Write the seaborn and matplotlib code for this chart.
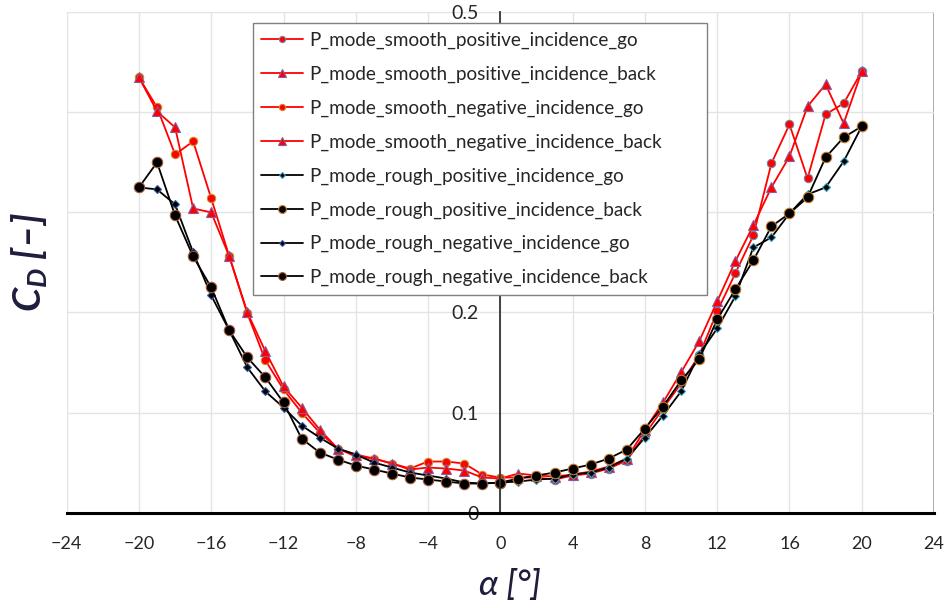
import numpy as np
import pandas as pd
import matplotlib
matplotlib.use("Agg")
import matplotlib.pyplot as plt
from matplotlib.patches import Rectangle
from matplotlib.ticker import MultipleLocator, FuncFormatter
import seaborn as sns

#%% data (C_D vs angle of attack)

alpha_neg = list(range(-20, 1))
alpha_pos = list(range(0, 21))

# smooth surface
cd_smooth_pos_go = [0.035, 0.035, 0.035, 0.033, 0.037, 0.039, 0.044, 0.052, 0.078, 0.104, 0.129,
                    0.157, 0.201, 0.239, 0.277, 0.349, 0.388, 0.334, 0.398, 0.409, 0.441]
cd_smooth_pos_back = [0.034, 0.039, 0.037, 0.036, 0.038, 0.041, 0.046, 0.054, 0.083, 0.110, 0.140,
                      0.171, 0.211, 0.251, 0.287, 0.325, 0.356, 0.406, 0.428, 0.389, 0.441]
cd_smooth_neg_go = [0.435, 0.405, 0.358, 0.371, 0.314, 0.256, 0.199, 0.152, 0.123, 0.100, 0.080,
                    0.064, 0.056, 0.054, 0.049, 0.044, 0.051, 0.051, 0.049, 0.038, 0.035]
cd_smooth_neg_back = [0.435, 0.401, 0.385, 0.304, 0.300, 0.256, 0.200, 0.161, 0.126, 0.105, 0.083,
                      0.064, 0.058, 0.054, 0.049, 0.043, 0.045, 0.044, 0.042, 0.035, 0.034]

# rough surface
cd_rough_pos_go = [0.030, 0.031, 0.033, 0.034, 0.038, 0.040, 0.045, 0.054, 0.075, 0.097, 0.121,
                   0.158, 0.184, 0.216, 0.265, 0.275, 0.299, 0.318, 0.325, 0.351, 0.386]
cd_rough_pos_back = [0.030, 0.034, 0.037, 0.040, 0.044, 0.048, 0.054, 0.063, 0.084, 0.106, 0.132,
                     0.153, 0.193, 0.223, 0.252, 0.286, 0.299, 0.315, 0.355, 0.375, 0.386]
cd_rough_neg_go = [0.325, 0.323, 0.308, 0.260, 0.217, 0.182, 0.145, 0.121, 0.105, 0.087, 0.075,
                   0.064, 0.058, 0.050, 0.045, 0.040, 0.037, 0.034, 0.030, 0.029, 0.030]
cd_rough_neg_back = [0.325, 0.350, 0.297, 0.256, 0.225, 0.182, 0.155, 0.135, 0.110, 0.074, 0.060,
                     0.053, 0.047, 0.043, 0.039, 0.035, 0.033, 0.031, 0.029, 0.029, 0.030]

labels = ['P_mode_smooth_positive_incidence_go',
          'P_mode_smooth_positive_incidence_back',
          'P_mode_smooth_negative_incidence_go',
          'P_mode_smooth_negative_incidence_back',
          'P_mode_rough_positive_incidence_go',
          'P_mode_rough_positive_incidence_back',
          'P_mode_rough_negative_incidence_go',
          'P_mode_rough_negative_incidence_back']

#%% styling

sns.set_style("white")
plt.rcParams['font.family'] = ['Lato', 'DejaVu Sans']
plt.rcParams['mathtext.fontset'] = 'custom'
plt.rcParams['mathtext.it'] = 'Lato:italic:bold'
plt.rcParams['mathtext.rm'] = 'Lato:bold'

# (x, y, colour, marker, size, edge colour)
series = [
    (alpha_pos, cd_smooth_pos_go, 'red', 'o', 6, '#7585a8'),
    (alpha_pos, cd_smooth_pos_back, 'red', '^', 7, '#8a5aa0'),
    (alpha_neg, cd_smooth_neg_go, 'red', 'o', 6, '#c8902a'),
    (alpha_neg, cd_smooth_neg_back, 'red', '^', 7, '#8a5aa0'),
    (alpha_pos, cd_rough_pos_go, 'black', 'D', 4, '#3aa0c0'),
    (alpha_pos, cd_rough_pos_back, 'black', 'o', 7.5, '#c07a2a'),
    (alpha_neg, cd_rough_neg_go, 'black', 'D', 4, '#3a5aa0'),
    (alpha_neg, cd_rough_neg_back, 'black', 'o', 7.5, '#a05a3a'),
]

fig = plt.figure(figsize=(9.47, 6.08), dpi=100)
ax = fig.add_axes([0.0704, 0.157, 0.9159, 0.8227])

for (x, y, col, mk, ms, mec), lab in zip(series, labels):
    df = pd.DataFrame({'alpha': x, 'cd': y})
    sns.lineplot(data=df, x='alpha', y='cd', ax=ax, color=col, marker=mk, markersize=ms,
                 markeredgecolor=mec, markeredgewidth=0.8, linewidth=1.3, label=lab,
                 sort=False, estimator=None)

ax.set_xlim(-24, 24)
ax.set_ylim(0, 0.5)
ax.xaxis.set_major_locator(MultipleLocator(4))
ax.yaxis.set_major_locator(MultipleLocator(0.1))
ax.yaxis.set_major_formatter(FuncFormatter(lambda v, _: f'{v:g}'))
ax.grid(True, color='#e4e4e4', linewidth=1)
ax.set_axisbelow(True)

# axes through zero, grey box round the plot area
for s in ['top', 'right']:
    ax.spines[s].set_visible(False)
ax.spines['left'].set_position(('data', 0))
ax.spines['left'].set_color('#333333')
ax.spines['left'].set_linewidth(1.3)
ax.spines['bottom'].set_color('black')
ax.spines['bottom'].set_linewidth(2.2)
ax.add_patch(Rectangle((0, 0), 1, 1, transform=ax.transAxes, fill=False,
                       edgecolor='#8c8c8c', linewidth=1.2, zorder=0.5))

ax.tick_params(axis='x', direction='out', length=5, width=1.5, colors='black',
               labelsize=13, pad=12, labelcolor='#262626')
ax.tick_params(axis='y', direction='out', length=4.5, width=1.2, colors='#333333',
               labelsize=14, pad=11, labelcolor='#262626')

ax.set_ylabel(r'$C_D$ [–]', fontsize=28, fontweight='bold', fontstyle='italic', color='#1e1e3c')
ax.yaxis.set_label_coords(-0.02, 0.5)
ax.set_xlabel('α [°]', fontsize=25, fontstyle='italic', fontweight='medium', color='#1e1e3c')
ax.xaxis.set_label_coords(0.511, -0.113)

leg = ax.legend(loc='upper left', bbox_to_anchor=(0.2145, 0.0, 0.5236, 0.978), mode='expand',
                frameon=True, fancybox=False, edgecolor='#808080', framealpha=1,
                fontsize=13.6, handlelength=2.2, handletextpad=0.35, labelspacing=0.88,
                borderpad=0.45, borderaxespad=0, markerscale=0.75)
leg.get_frame().set_linewidth(1.0)
leg.set_zorder(5)

plt.savefig('out.png', dpi=100)
